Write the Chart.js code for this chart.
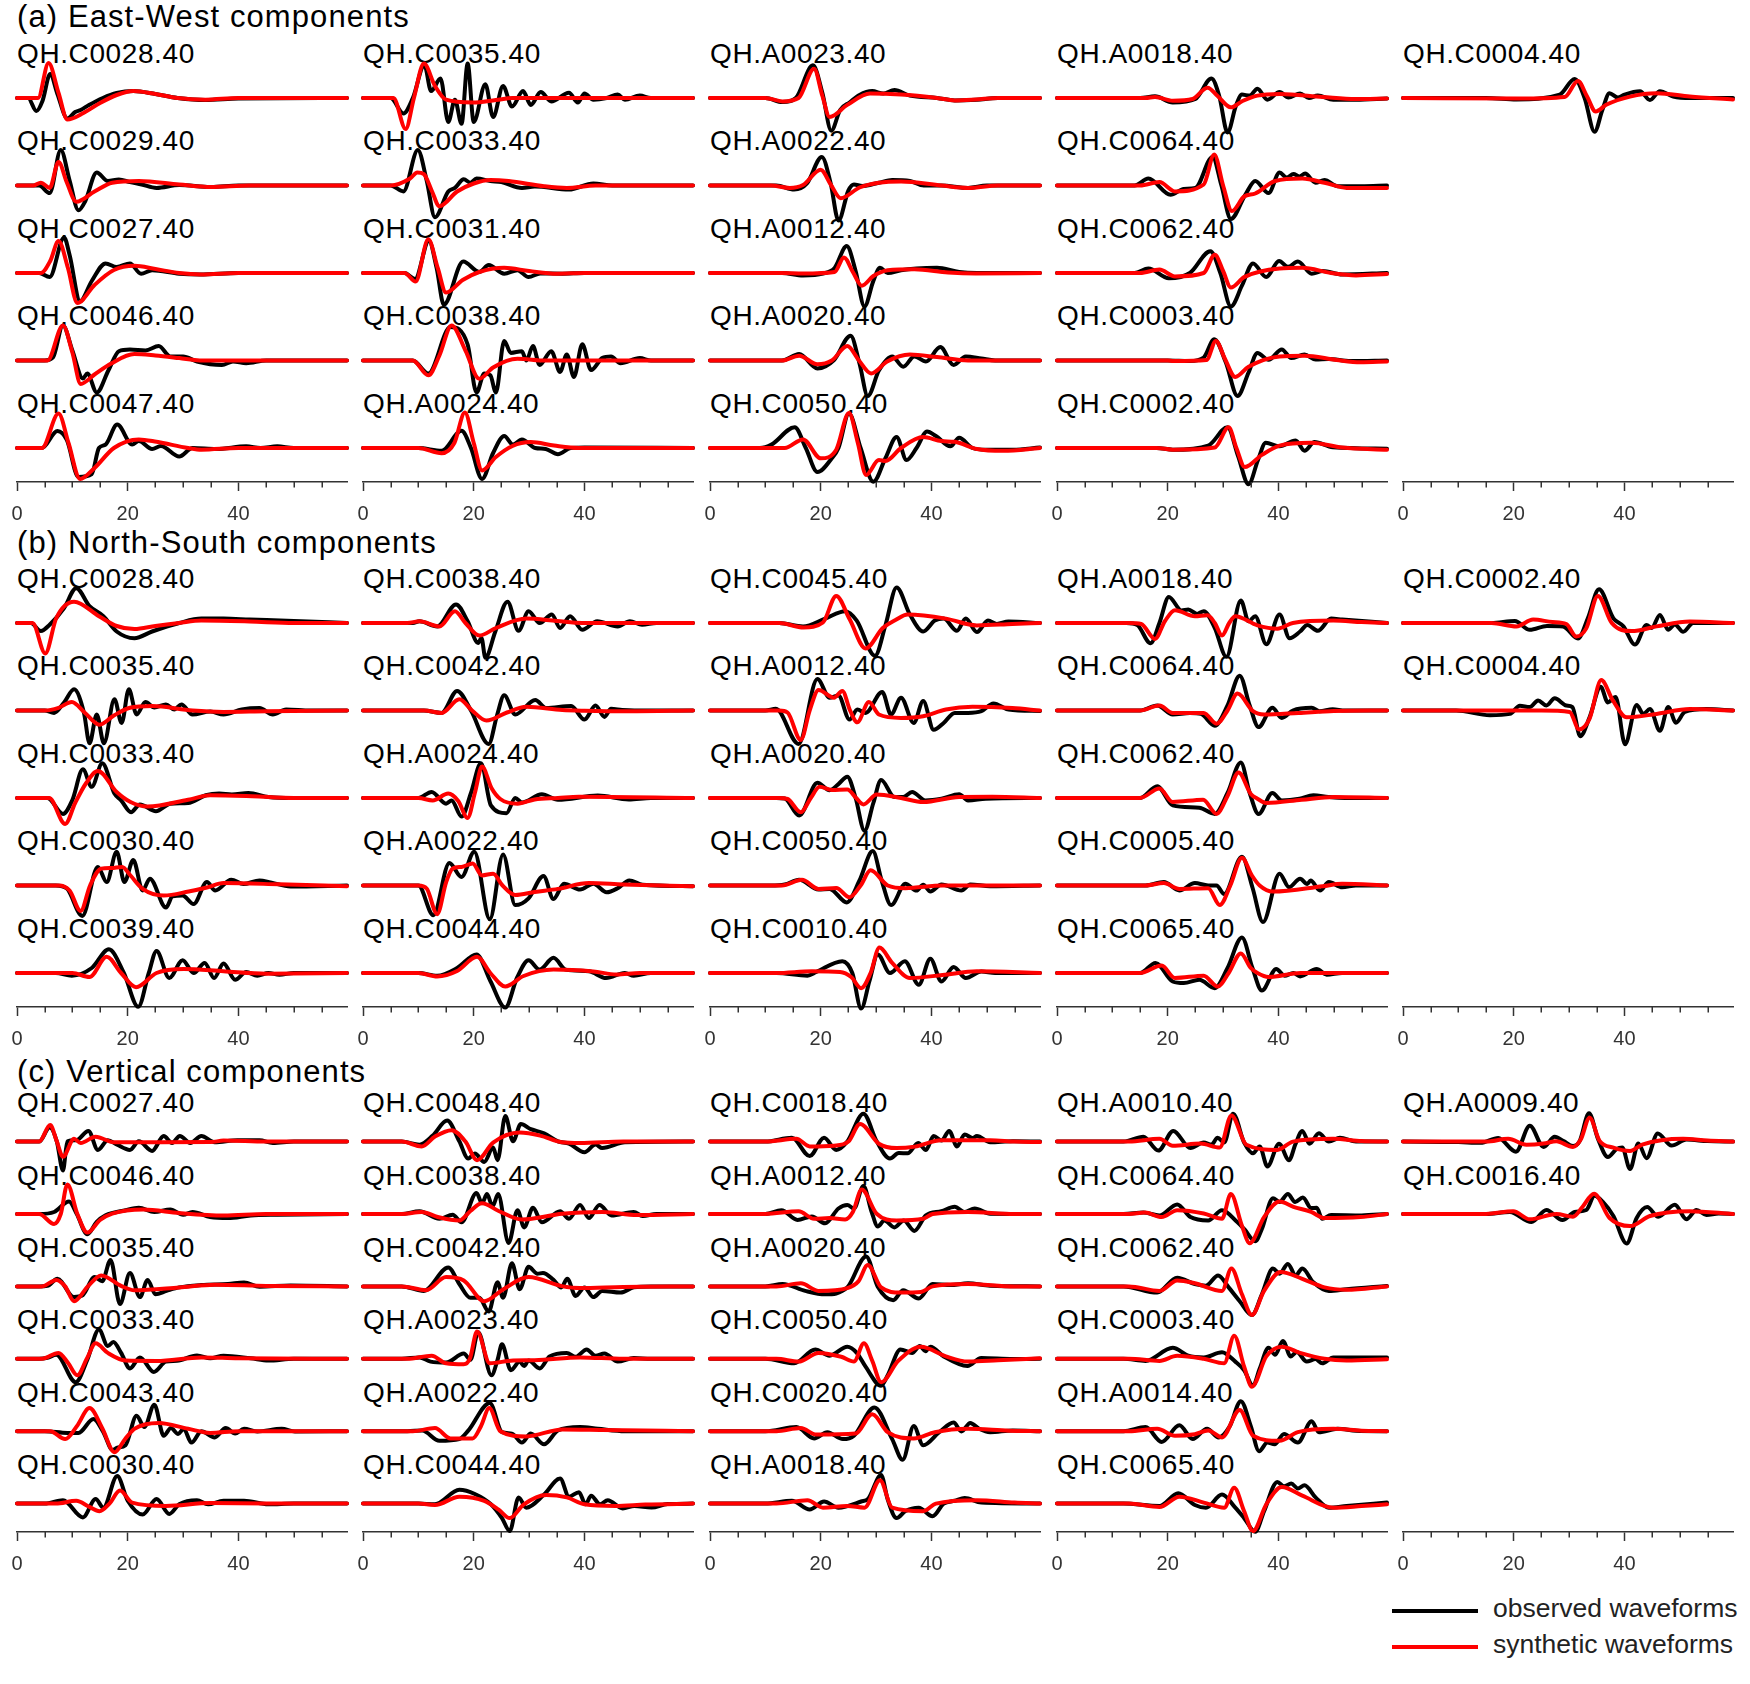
<!DOCTYPE html>
<html><head><meta charset="utf-8">
<script src="https://cdn.jsdelivr.net/npm/chart.js@4.4.1/dist/chart.umd.min.js"></script>
<style>
html,body{margin:0;padding:0;background:#fff;overflow:hidden;}
#fig{position:relative;width:1750px;height:1684px;background:#fff;overflow:hidden;font-family:"Liberation Sans",Arial,Helvetica,sans-serif;}
.t{position:absolute;white-space:nowrap;line-height:1;color:#000;z-index:0;}
canvas{position:absolute;z-index:1;}
.ll{position:absolute;height:4px;z-index:2;}
</style></head><body><div id="fig"></div><script>
// ---------- DATA (time in s, amplitude in relative units; flat lists t,a,t,a,...) ----------
const TITLES = ['(a) East-West components', '(b) North-South components', '(c) Vertical components'];
const X_TICKS = [0, 20, 40];
const X_MINOR_STEP = 5;
const X_MAX = 59.6;
const LEGEND_LABELS = ['observed waveforms', 'synthetic waveforms'];

const EW1_NAMES = ["QH.C0028.40","QH.C0029.40","QH.C0027.40","QH.C0046.40","QH.C0047.40"];
const EW1_OBS = [
 [0,0,2,0,3.5,-13,4.6,-3,6,24,7.3,4,9.1,-20.5,10.5,-14,11.5,-12,13,-7,15.5,0,18,5,21,7,25,4,29,0,34,-2,40,-0.5,59.6,0],
 [0,0,4,0,5.9,-7.6,7.9,35.5,9.5,5,11.1,-24.8,12.3,-16,14.4,13,16.4,4.5,18.4,6,20.4,3.4,22.5,1,25.2,-2.4,29.3,0.5,35,-1.4,40,0,59.6,0],
 [0,0,4,0,5.9,-4,8.5,35.5,9.5,18,11.4,-28,13.5,-8,16,9.6,18,6,20.4,9.6,22.4,-0.7,24.4,2.8,29.3,-0.7,33,-1.4,40,0,59.6,0],
 [0,0,5,0,6.5,3,8.3,35,10,10,11.9,-18,12.7,-13,14.4,-32,16.5,-10,18.4,9.3,20.4,11,23.2,10,25.6,14.5,27.7,4,30,4,32.5,-1,37,-4.5,39,-1,41.4,-2.8,45,0,59.6,0],
 [0,0,4.5,0,7.3,17,9,8,11.1,-29,13.5,-26,14.8,0,16,3.4,18.1,23.4,20.8,3.4,22,7,24.4,-1,26,2,29.3,-8.6,31.7,0,36,-1,41.4,1.7,44,0,47,1.7,50,0,59.6,0]
];
const EW1_SYN = [
 [0,0,3.8,0,5.7,35,7.5,5,9.1,-21.5,12,-15,15,-5,18,3,21,7,25,4,29,0,34,-1.7,40,0,59.6,0],
 [0,0,3,0,4.3,2.8,5.9,-2.4,7.5,23.4,9,3,10.7,-16.2,14,-6,17.2,2.8,22,4.5,29.3,1,35,-1.4,42,0,59.6,0],
 [0,0,4.3,0,6,12,7.5,32,9.2,5,10.9,-30,14,-12,17.5,3,21.2,7.2,25,4,29.3,0,33.3,-1.4,40,0,59.6,0],
 [0,0,5.5,0,8.3,35,10,8,11.5,-23.4,14,-14,17,-3,21.2,6.5,25,5,29.3,2.4,33,0,59.6,0],
 [0,0,4.5,0,7.5,34.4,9.3,5,11.4,-31,14,-20,17.5,0,22,8.6,25.2,6.2,30.9,0,33.3,-1.7,40,0,59.6,0]
];
const EW2_NAMES = ["QH.C0035.40","QH.C0033.40","QH.C0031.40","QH.C0038.40","QH.A0024.40"];
const EW2_OBS = [
 [0,0,5,0,7.3,-15.5,9,0,11.1,32.7,12.3,6.9,14,19.6,15.4,-24,16.6,-1.7,17.8,-25.8,18.9,34.4,20,-24,22.1,13.8,23.5,-19,25.3,12,26.9,-8.6,28.9,6.9,30.3,-6.9,32.1,5.9,34,-3.4,37.2,5.2,38.8,-4.5,40,4.5,41.6,-1.7,44,0,46,3.4,47.3,-1.7,50,2.4,52,0,59.6,0],
 [0,0,5,0,7.3,-5.9,9.9,35.5,11.5,5,13,-31.7,15.4,-5.9,16.6,-2.4,18.2,6.2,19.4,2.8,20.5,6.9,23,4.5,25,3.4,28.7,-2.4,31,-1,37.2,-4,41.6,2,45,0,59.6,0],
 [0,0,7.5,0,9.4,-5.9,11.9,32,13.3,5,14.6,-31.7,18.1,11.4,21,1,22.7,7.9,25.5,-0.7,27.9,2.8,29.9,-4.1,32,-0.5,36,-0.7,40,0,59.6,0],
 [0,0,9,0,11.8,-13,15.8,33.4,18.9,16,20.5,-32,21.9,-13,23,-14.8,24,-32,25.5,19.6,26.7,7.6,28.7,9.3,29.5,0,30.7,14.5,31.9,-4.5,34,9.3,35.6,-11.4,36.8,6,38.1,-16.5,39.6,16.2,41.2,-9.6,43.2,2.4,44.8,4.1,46.5,-2.8,50,2.4,52,0,59.6,0],
 [0,0,10,0,14.2,-2.8,17.8,17.2,19.5,0,21.5,-31,23.5,-5,25.5,12,27.1,3.4,28.7,8.6,31.1,0,33,-1,35.2,-6.2,37.5,0,40,0.5,59.6,0]
];
const EW2_SYN = [
 [0,0,5.5,0,7.7,-31,9.2,0,11,34.4,13,12,15,-1.7,19.8,-4.5,24,-2,27,0,59.6,0],
 [0,0,5,0,8.5,7,9.8,13,11,11.4,12.4,-5,13.8,-20.7,17,-6,20,2,23,5.5,26.3,4.5,32.7,-0.7,36.8,-2.4,42,0,59.6,0],
 [0,0,7.5,0,9.5,-8.6,11.8,33.7,13.5,5,15,-19.6,18,-7,21,1,25.5,5.2,30,2,35,-0.7,40,0,59.6,0],
 [0,0,9,0,11.8,-14.8,13.8,5,16,35,18.5,10,21,-18.3,23.5,-7,27.9,1.7,33,0,59.6,0],
 [0,0,10,0,14.2,-5.2,16.5,5,18.4,35.5,20,5,21.5,-22.4,24,-9,27,2,30.3,5.9,34.5,2.4,39,0,59.6,0]
];
const EW3_NAMES = ["QH.A0023.40","QH.A0022.40","QH.A0012.40","QH.A0020.40","QH.C0050.40"];
const EW3_OBS = [
 [0,0,10,0,13.1,-4.1,15.5,0,18.6,32.7,20.3,5,21.9,-32.7,23.5,-12,25.2,-4.5,27,3,29.3,6.9,31.3,4.5,33.3,7.9,36.1,2.4,41,0,44.2,-2.4,48.2,-1.7,52,0,59.6,0],
 [0,0,12,0,15.2,-4.1,17.5,2,20.2,28.6,21.8,2,23.2,-35,25,-5,26,1,27.5,-0.5,30.5,2.8,32.9,5.5,36.1,4.5,38.6,0,41.8,0,46.6,-2.4,50,0,59.6,0],
 [0,0,13,0,16.8,-2.4,20.4,-0.5,22.5,5,24.7,26.9,26.3,2,27.9,-33.4,29.5,-8,30.7,5.2,32.1,0,34.5,2.8,37.3,4.5,41,5.2,45,1,48.2,0,59.6,0],
 [0,0,13,0,16.1,6.5,19.4,-7.9,22.4,0.5,25.4,24.8,27,-3,28.5,-35.5,30.5,-10,32.9,4.1,34.9,-6.2,36.9,4.1,39,-1,41.6,13.4,44,-4.5,46.2,4.1,49,2,51.5,0,59.6,0],
 [0,0,9,0,11.1,3.4,15.3,20.7,17.3,0,19.4,-24.1,22,-10.3,23.2,0,25.1,34.4,27.2,0,29.5,-33.7,31.7,-10,33.7,11,35.5,-12,37.3,0,39.2,16.5,40.8,12,43.4,1.7,45,10.3,47.4,0,49.8,-1.7,54.7,-1.7,59.6,0.5]
];
const EW3_SYN = [
 [0,0,10,0,13.1,-3.4,16,0,18.8,29.3,20.3,2,21.6,-19,24.8,-6.9,28.9,4.5,34.5,3.4,41,0,44.2,-2.4,48,-1.5,52,0,59.6,0],
 [0,0,11,0,14.4,-2.4,16.8,0.5,20,15.8,21.8,1,23.6,-12.7,27,-2,30.5,2.8,34.5,4.1,41.8,0,46.6,-2.4,52,0,59.6,0],
 [0,0,13,0,16.8,-0.5,22.5,1,24.2,15.5,25.8,1,27.4,-12.7,29.5,-3,32.1,2.8,36.9,3.8,43,0.5,48,-0.5,59.6,0],
 [0,0,13,0,16.1,4.8,19.4,-3.8,22,0,24.8,14.5,26.9,0,29.1,-13,32,-1,36.1,5.9,41,3.4,46.6,0,59.6,0],
 [0,0,13.5,0,16.8,8.6,20,-10.3,22.8,-1.7,25.1,35,26.7,5,28.2,-26.9,30.5,-12,31.7,-13,34.5,0,38.5,11,41.8,6.9,44.2,6.2,48.2,-1,53,-2.8,59.6,0]
];
const EW4_NAMES = ["QH.A0018.40","QH.C0064.40","QH.C0062.40","QH.C0003.40","QH.C0002.40"];
const EW4_OBS = [
 [0,0,15,0,17.7,1.7,20.9,-4.5,25,-1,27.9,19.6,29.3,2,30.8,-34.4,32.3,-8,33.4,3.4,34.8,2.4,36.2,9.3,38,-1.7,40.2,5.9,41.8,0.5,43.9,4.5,45.5,0,47.1,2.4,49.9,-1.7,54,-1.7,59.6,-0.5],
 [0,0,14,0,16.5,6.9,20.5,-9.3,22.9,-3.4,25,-2.4,28.1,28.6,29.7,0,31.4,-33.4,34,-9.3,35.8,4.5,38.2,-7.6,40.2,13,41.5,7.9,42.7,11.4,43.8,9,44.8,12,46.7,2.8,48.3,5.5,50.7,-0.7,55,-0.7,59.6,0],
 [0,0,14,0,16.5,4.5,20.2,-5.2,24,0,27.7,21.7,29.5,0,31.4,-33.4,33.4,-12.7,35.4,9.6,37.8,-4.1,40.1,12,41.7,6.2,43.5,11.4,46,-0.7,48,2,51.5,-1.5,59.6,0],
 [0,0,20,0,24,-0.5,26.5,3,28.4,21.3,30.5,-2,32.6,-35.5,34.6,-12,36.2,7.6,38.2,0.7,40.6,11,42.3,2.4,44.7,5.9,46.7,1,49,1.5,53,-0.5,59.6,0],
 [0,0,18,0,20.9,-1.7,27.3,2.4,30.8,20.7,32.7,-8,34.6,-36.2,36.3,-12,37.7,5.2,40.2,1.7,43.1,7.6,44.7,-2.8,46.5,5.9,49.8,0.7,59.6,-0.7]
];
const EW4_SYN = [
 [0,0,16,0,17.7,1,20.9,-2.8,24.5,-1,27.2,10.3,29,2,31.4,-9.3,33.5,-3,36.2,2.4,40.2,4.1,48,1,53.9,-1,59.6,-0.5],
 [0,0,15,0,18.5,3.4,21.3,-5.9,26.5,1,28.4,31,30,0,31.6,-25.5,33.8,-11,35.8,-8,39.4,4.5,44.3,6.9,48.3,2.8,52.3,-2.4,59.6,-2.4],
 [0,0,15,0,18.5,3.4,21.3,-3.4,26.5,0,28.5,18.3,30,2,31.4,-14.5,33.8,-4.1,40.2,4.5,44.3,5.2,49.5,0,54,-2.4,59.6,-1],
 [0,0,20,0,21,-0.5,27,0.5,28.7,19.6,30.3,2,32.2,-16.5,34.6,-6.2,40.2,4.1,44.7,4.8,50.5,0.5,54.8,-1.7,59.6,-1],
 [0,0,18,0,20.9,-1.7,28.5,0.5,31,20.7,32.4,0,33.9,-19,37,-6.9,40.2,2.4,45.9,5.2,51.5,0.5,59.6,-1.7]
];
const EW5_NAMES = ["QH.C0004.40"];
const EW5_OBS = [
 [0,0,15,0,20.5,-1.4,28.3,3.4,31,19,32.8,0,34.6,-33.8,36,-12,37.3,4.7,38.8,0.5,40,3.4,42.8,6.8,44.6,-2,46.4,6.8,48.8,1.5,52,0,59.6,0]
];
const EW5_SYN = [
 [0,0,21,-0.5,29.2,1,31.6,16.9,33.2,2,34.8,-13.5,36.7,-6.8,41,1.4,45.8,4.7,51.8,1.5,59.6,-1.4]
];

const NS1_NAMES = ["QH.C0028.40","QH.C0035.40","QH.C0033.40","QH.C0030.40","QH.C0039.40"];
const NS1_OBS = [
 [0,0,2.5,0,4.3,-8,5.9,-1.7,8.5,15,10.7,34.8,13.1,16.9,15.6,6.8,18,-8.5,21.2,-15.2,24.4,-8.5,29.3,0,33.3,4.4,37.3,4.4,42,3.5,50,2,59.6,0],
 [0,0,5,0,6.7,-2.4,8.5,8,10.3,21.3,12.1,-2.4,13.1,-32.8,14.4,-4,15.7,-32.8,17.6,11.2,18.9,-12.5,20.2,21.3,21.6,-4,23.2,8.5,24.8,3,26.9,6.1,28.4,1,29.7,6.1,31.7,-4,34.9,-1,37.3,-4,40.6,1,43.8,2.4,46.2,-4,48.6,1,53,0,59.6,0],
 [0,0,5.5,0,8.3,-15.9,10,-2,11.9,28.7,13.5,11.2,15.4,34.8,17.6,4.4,18.8,-2.4,20.6,-14.2,22.2,-6.4,25.1,-13.2,27.7,-5.7,30.9,-5,34.1,2.7,36.5,4.4,38.8,3.5,41.8,5,45.4,1,50,0,59.6,0],
 [0,0,7,0,9,-3,11.8,-30.4,14.6,18.6,16.2,3.4,18,33.8,19.4,3.4,21,25.4,22.7,-5,24,6.8,26.9,-22,28.1,-10.8,29.9,-10,31.9,-18.6,34.3,3.4,35.8,-5,38.7,5.7,40.9,1.5,43.8,5,45.8,3,49.4,-1,59.6,0],
 [0,0,7,0,9.9,-2.7,13.5,5,16.6,23.7,19.3,0,21.9,-33.8,23.8,0,25.2,22,27.5,-5,29.9,12.8,31.9,0,33.9,10.1,35.6,-5,37.3,9.5,39.4,-6.8,41.4,1,43.4,-2.7,45.4,0,47.4,-1.7,50,0,59.6,0]
];
const NS1_SYN = [
 [0,0,2.8,0,5.1,-30.4,7.1,5,10.3,21.3,14.8,6.8,18,-3,21.2,-6.1,25,-3,29.3,0,33.3,2.4,42,1.5,50,0,59.6,0],
 [0,0,5,0,7.5,2.7,9.9,8.5,12.2,-2,14.9,-14.2,17.5,-5,20.4,2.7,24.4,4.4,31.7,0,37.3,-1.4,45,-0.7,59.6,0],
 [0,0,5.8,0,8.7,-26,10.5,-5,12.5,15,14.6,27,18,6,20.5,-4,23.6,-8.5,30.9,-1.7,34.9,2.7,42.5,1.7,50,0,59.6,0],
 [0,0,7.5,0,9.5,-5,11.5,-25.4,13.2,0,15.2,16.9,17,17.5,19,18.6,20.5,10,22.7,-3.4,26.5,-10.1,31,-6,34.3,-2,37.3,2.4,47.3,1.2,59.6,-0.7],
 [0,0,10,0,13.1,-4,16.2,16.2,18.8,0,21.5,-14.2,25.2,0,30.1,4,37.3,1.7,45,-0.7,59.6,0]
];
const NS2_NAMES = ["QH.C0038.40","QH.C0042.40","QH.A0024.40","QH.A0022.40","QH.C0044.40"];
const NS2_OBS = [
 [0,0,9,0,10.2,1.7,13.4,-3.4,16.8,18.6,18.9,1.7,20.8,-20,21.4,-15,22.1,-34.8,23.9,-8.5,26.1,21.3,28.1,-7.8,29.9,11.8,31.9,0,34.1,8.5,35.6,-5,37.4,6.8,39.6,-6.8,42.3,1.7,46,-3.4,48.2,1.7,50.4,-1.7,53,0,59.6,0],
 [0,0,11,0,14.2,-2.4,17,19.6,19.5,0,22.7,-33.5,24.2,-5,25.5,15.2,27.5,-4,31.1,10.5,33.1,2.5,37.6,4.4,40,-9.1,42,5,43.6,-6.4,44.8,1.7,46.8,0.5,49,0,59.6,0],
 [0,0,10,0,12.4,6.1,15,-5.7,16,-2.4,17.8,-18.6,19.5,5,21.3,34.8,23.1,-7.4,25.9,-15.2,27.5,0,28.7,-4.4,32.3,3.7,35.2,-1.7,42.4,2.4,48,-1.4,52,0,59.6,0],
 [0,0,10,0,12.7,-29.7,15.6,22.6,17.8,8.5,20.1,33.8,22.9,-33.8,25.3,31.1,27.5,-19.6,29.9,-12.8,32.6,9.5,34.4,-13.5,36.3,1.7,39.2,-4,41.6,1.7,44,-6.8,46,-2.7,48.1,5,50.5,0.7,59.6,-0.7],
 [0,0,10,0,13.4,-2.7,17,5,20.5,18.6,23,-8,25.7,-34.5,27.8,-5,29.9,12.8,31.9,3.4,34.4,15.2,36.6,3.4,40.8,1.7,43.9,-5,47.3,0,48.9,-2.7,52,0,59.6,0]
];
const NS2_SYN = [
 [0,0,8,0,10.2,1.7,13.8,-3.4,16.6,11.8,18.5,0,21,-12.5,24,-5,29.5,4.4,35,2,39.6,0,59.6,0],
 [0,0,11,0,14.2,-2.4,17.4,11.2,19.7,0,22.3,-10.1,26,-2,29.5,3.7,36,0.5,40,-0.2,48,-0.7,59.6,0],
 [0,0,10,0,12.6,-2.4,15.4,4.4,17.2,-3,18.9,-20,20.2,5,21.5,31.4,23.2,10,24.8,-1,27.9,-5.7,31,-1.4,35.2,0,39,1.2,59.6,0],
 [0,0,10,0,11.5,-3,13.4,-28.7,15,3,16.2,16.9,17.8,18.6,19.8,22,21.5,10.1,23.5,11.8,25.2,0,27.5,-9.5,31,-6.5,35.2,-3.4,40.8,2.4,47,1,59.6,-0.7],
 [0,0,10,0,13.4,-3.4,17,2,20.6,16.2,23,0,25.7,-13.5,29,-3,34.4,3.4,41.6,1.5,45.8,-1.4,50,0,59.6,0]
];
const NS3_NAMES = ["QH.C0045.40","QH.A0012.40","QH.A0020.40","QH.C0050.40","QH.C0010.40"];
const NS3_OBS = [
 [0,0,12.5,0,16.8,-3.4,20.8,4.4,24.4,11.8,26.5,2.4,29.8,-32.8,31.7,-2,33.7,35.5,36.1,8.5,38.5,-8.5,40.6,2.4,42.2,4.4,44.6,-7.8,46.2,4.4,48.2,-9.1,50.2,2.4,51.8,-1,53.9,1.5,59.6,0],
 [0,0,10,0,11.9,1.7,16,-33.5,19.4,31.4,21.6,12.8,23.2,15,25.2,-9.1,26.6,1,28.1,-2.4,31.1,18.6,32.7,-4,34.5,12.8,36.8,-12.5,38.5,9.5,40.4,-19.3,42.2,-12.5,44.2,-2.4,46.6,-2.4,49,-0.7,51.2,7.1,53.9,1,59.6,-0.5],
 [0,0,12,0,13.5,-0.5,16.1,-17.6,19.4,15.2,21.6,7.8,23.2,13.9,24.8,21.3,26.3,0,27.9,-32.8,29.5,-5,30.9,17.9,33.3,1,34.9,1,36.5,6.1,38.9,-2.4,41.8,-0.7,45,3.7,46.6,-2.4,49.8,-0.7,59.6,0],
 [0,0,11,0,13.5,1,16.1,5.7,19.6,-4,21.6,-3.4,24.7,-16.9,27,5,29.4,34.5,31,5,32.7,-19.6,35.3,1.7,37.3,-5,38.5,0.7,39.8,-6.1,41.8,1,45.4,-5,47,1,50.6,-0.7,59.6,0],
 [0,0,12,0,17.6,-2.7,19.2,1,23.9,11.8,25.7,0,27.3,-35.5,28.8,-8,30.3,18.6,32.5,0,35.2,11.8,37.7,-11.8,39.8,14.2,41.8,-8.5,44,6.1,46.2,-5,49,1.5,51.5,0,59.6,0]
];
const NS3_SYN = [
 [0,0,12.5,0,16.9,-4.4,20.4,0.5,22.8,27,25.2,4,28.1,-25.4,31.2,-5,33.5,3,35.7,8.5,42.6,4.4,48.2,-2.4,54.6,-1,59.6,0],
 [0,0,12.5,0,14,-2,16.4,-29.4,18,0,19.6,20.6,22.4,12.8,23.9,19.6,25.3,0,26.6,-11.8,28.7,8.5,30.5,-4,34.5,-7.4,38.5,-5.7,42.6,1,47.4,3.7,54.6,2.4,59.6,0],
 [0,0,12.5,0,14,-1,16.4,-14.2,18.2,0,19.8,11.2,22,8,24.8,8.5,26.4,0,27.7,-6.4,30.1,3.4,34.5,0,38.5,-4,45,1,51,1.2,59.6,0],
 [0,0,13,0,16.6,5.7,19.6,-3.4,22.8,-2.4,25.2,-11.8,27.2,0,29,15.2,32.1,0,35.3,-2.7,42,0,59.6,0],
 [0,0,12,0,18.4,1.7,23.5,1,25.5,-4,27.3,-15.2,29,0,30.6,25.4,32.9,10.1,36.1,-5,42,-2,48.2,1.7,59.6,0]
];
const NS4_NAMES = ["QH.A0018.40","QH.C0064.40","QH.C0062.40","QH.C0005.40","QH.C0065.40"];
const NS4_OBS = [
 [0,0,12.5,0,14.5,-2,16.9,-20.3,18.5,0,20.2,26,22.5,12.5,23.7,13.5,25.3,9.1,26.5,11.8,28.5,-5,30.6,-33.8,33.2,22.6,34.6,1.7,35.8,6.8,37.8,-21.3,40.2,8.5,42,-15.2,43.9,-8.5,45.2,-2,47.1,-7.8,49.5,4.4,51.5,3.5,59.6,0],
 [0,0,15,0,18.1,5,20.9,-4,24,-2.4,26,-3.4,28.5,-15.2,30.8,5,33,34.8,34.8,5,36.4,-16.6,38.9,2.7,40.6,-7.4,42.6,0,46,2.7,47.4,-0.7,49.8,1.2,52,0,59.6,0],
 [0,0,15,0,18.1,11.8,20.9,-7.4,25.7,-9.8,28.5,-15.9,30.8,5,33.2,35.5,34.8,5,36.4,-15.9,38.9,5,40.6,-2.4,43.8,-0.7,46.3,2.7,49,1,52,0,59.6,0],
 [0,0,16,0,19.3,3.4,22.1,-5,24.9,2.4,27.3,0,28.8,0,30.2,-8.5,33.4,28.7,35.3,-2,37.2,-36.5,40.2,11.8,41.9,-1.7,43.9,6.8,45.2,1.5,45.8,5,47.5,-5,49.1,3.4,51.5,-1.7,54,0,59.6,0],
 [0,0,15,0,17.8,10.1,20.9,-8.5,22.9,-10.1,25.7,-6.8,28.5,-15.2,30.8,5,33.4,35.5,35.3,5,37,-17.6,39.6,4,41.1,-2.7,42.7,0,43.9,-3.4,46.9,4,48.7,-1.7,51.5,0,59.6,0]
];
const NS4_SYN = [
 [0,0,13,0,15.2,-1,17.7,-15.9,19.5,2,21.3,12.8,24.9,6.8,27.2,7.8,28.5,0,29.8,-12.5,31.1,0,32.2,6.8,36.2,-2.4,39.8,-5.7,42.6,0,49.9,2.4,55,1,59.6,0],
 [0,0,15,0,18.5,5,20.9,-2.4,26.5,-2.4,28.8,-13.2,30.8,0,32.6,16.9,35.4,-0.7,37.4,-4,43.6,-2.4,50,-0.5,59.6,0],
 [0,0,15,0,18.5,9.5,20.9,-4,26.4,-1.7,28.8,-15.9,30.8,2,32.8,25.4,35,4,36.2,-0.7,37.8,-5,44.2,-1.7,50,1,59.6,0],
 [0,0,16,0,19.3,2.4,22.1,-3.4,27.3,-2.7,29.4,-19.6,31.3,0,33.4,27.7,35.2,10,36.6,0,39,-6.1,48,-0.7,51.5,1.7,59.6,0],
 [0,0,15,0,18.9,7.4,21.3,-5,26.5,-2.7,29,-13.5,31,0,33.2,19.6,35,5,36.2,0,38.2,-4,44,0,59.6,0]
];
const NS5_NAMES = ["QH.C0002.40","QH.C0004.40"];
const NS5_OBS = [
 [0,0,16,0,20.2,2,22.9,-6.8,26,-3,28.9,-3.4,31.6,-15.5,33.4,5,35.4,33.8,38,4.7,39.8,-3.4,41.9,-21.6,44,-2,44.9,-5,46.4,8.1,47.9,-6.8,49.1,-1.4,50.6,-8.8,52.4,0,59.6,0],
 [0,0,9.6,0,15.7,-4.7,19.3,-3.4,21.1,4.7,22.9,3.4,24.4,10.1,25.9,5,27.4,12.2,29.5,5,30.6,3.4,32,-25.7,33.7,-6.8,35.7,23.7,37,8.1,38.4,13.5,40.1,-33.8,42.2,5.4,43.4,-3.4,44.6,1.4,46.4,-20.3,47.9,3.4,49.3,-12.2,50.9,-1.4,54.8,1.4,59.6,0]
];
const NS5_SYN = [
 [0,0,16,0,20.5,-3.4,23.5,3.4,27,1,29.5,-1,31.3,-13.5,33.1,-5.4,35.2,27,37.7,0,41.3,-8.1,45.8,-3.4,51.8,1.4,59.6,0],
 [0,0,25,0,30.1,-1.4,31.8,-18.9,33.7,-8.1,35.8,30.4,37.9,10.1,40.4,-6.8,45.8,-3.4,51.8,1.4,59.6,0]
];

const VZ1_NAMES = ["QH.C0027.40","QH.C0046.40","QH.C0035.40","QH.C0033.40","QH.C0043.40","QH.C0030.40"];
const VZ1_OBS = [
 [0,0,4,0,5.9,14.1,7.2,0,8.3,-28.9,9.1,0.3,10.7,1.4,12.9,10.7,14.6,-8.3,16.4,1.4,18,-2.8,20.4,-8.3,22,0.3,24.4,-9.3,26.5,5.5,28,-1.4,29.4,5.5,31.3,-1.4,33.3,5.5,35.7,-0.7,39.8,1.4,43.8,1.4,46.2,-1.4,50,0,59.6,0],
 [0,0,4,0,6.7,2,9.4,12.4,10.8,0,12.7,-20.3,14.4,-8,16,-1.4,19.6,3.8,22,6.2,24.8,2,27.7,4.5,30,-0.7,31.7,2,34.9,-3,38.1,-4.1,42.2,-1.4,47,-0.7,59.6,0],
 [0,0,4,0,5.5,0.5,7.3,7.6,10.3,-10.7,11.9,-8.6,14,9.3,15.4,5.2,16.9,26.5,18.6,-17.6,20.4,13.4,22.2,-10.7,23.6,6.5,25,-7.9,27,-4.5,29.3,-1,33.3,1.4,38.1,2.4,41,3.8,43.8,-0.3,49.4,1,59.6,0],
 [0,0,4,0,5.5,1,7.1,4.1,10.6,-23.4,12.7,-1,14.8,29.3,16.4,12.7,17.4,16.9,18.8,5.9,20.4,-9.6,22.2,1.4,24.7,-13.1,26.9,-2.8,28.9,-2,32.5,3.4,34.9,0.5,37.3,3.1,42.2,0.5,45.4,-1.7,50,0,59.6,0],
 [0,0,5,0,9.1,-1.7,11.1,-1.7,13.8,12.1,15.5,0,17.3,-18.9,18.1,-16.5,19.6,-14,21.6,15.5,23,4.1,24.8,26.5,26.5,-4.5,27.8,3.1,29.1,-2.8,30.1,2.4,31.5,-11.4,33.3,0,35.7,-6.2,37.7,3.1,39.4,-2.4,41,2.4,43.4,-0.3,47.8,2.4,50.2,-0.3,59.6,0],
 [0,0,5,0,8.3,3.4,11.9,-13.8,14.2,4.5,15.6,-4.1,18.1,27.5,20,2.8,22.7,-11,25.2,4.5,27.5,-10.3,29.3,-0.7,32.5,3.4,34.5,-0.7,37.3,2.8,41,2.8,45.4,-0.7,50,0,59.6,0]
];
const VZ1_SYN = [
 [0,0,4,0,6,16.5,7.2,0,8.3,-15.2,10.3,2.8,11.5,-1.4,14.2,4.8,17.5,-0.7,26,-0.7,35,-0.5,37.3,1,45,0,59.6,0],
 [0,0,4,0,6.7,-10,7.9,0,9.1,29.6,10.9,0,12.7,-18.6,15,-6,17.2,0.3,22.8,4.5,29.3,1,37.3,-1.4,45,0,59.6,0],
 [0,0,4.5,0,7.1,6.5,8.7,0,10.3,-14.8,12.8,0,15.2,11,18.8,0.5,21.2,-3.8,29.3,-1,35.7,1.7,45,0.5,59.6,0],
 [0,0,4.5,0,7.5,5.9,9.2,-4,10.9,-16.5,12.6,0,14.2,15.5,16.4,5.9,19.6,-1.7,25.2,-2.1,33.3,1.4,40,0.5,59.6,0],
 [0,0,6,0,8.7,-7.9,10.8,5,13.1,23.1,15.4,3,17.6,-21,19.5,-8,21.2,2.4,25.6,8.3,30.9,2.4,34.9,-1.7,40,0,59.6,0],
 [0,0,7,0,10.7,2.8,13,-3,14.9,-7.6,16.7,0,18.6,13.1,20.8,1,26.9,-2.4,34.9,0.5,45,0,59.6,0]
];
const VZ2_NAMES = ["QH.C0048.40","QH.C0038.40","QH.C0042.40","QH.A0023.40","QH.A0022.40","QH.C0044.40"];
const VZ2_OBS = [
 [0,0,7,0,10.2,-3.1,12.6,6,15.2,21,17.4,0.3,19,-16.9,20.2,-12,21.9,-20.3,23.5,-6,24.3,-18.6,25.7,25.5,27.1,0.3,28.5,17.6,30.3,12.4,32.7,8.3,35.2,0.3,37.2,-2,40,-10.7,42,-3,43.2,-6.5,47.3,-0.7,59.6,0],
 [0,0,7,0,10.2,2.8,13.8,-4.8,16.2,-0.7,17.8,-8.3,20.5,21,21.5,10.7,22.4,20,23.4,7.6,24.4,20,26.3,-28.9,27.9,3.8,29.1,-13.4,30.7,6.2,32.3,-8.3,35.6,2.8,37.2,-4.8,39.2,9,40.8,-4.1,42.7,9,44.9,-1.4,48.9,2,50.5,-2,53,0,59.6,0],
 [0,0,7,0,11,-4.5,15.4,18.9,17.4,2.4,19.4,-11.4,21,-11.4,22.7,-25.1,24.3,4.1,25.3,-11.4,26.9,23.1,28.3,-2.8,29.9,19.6,31.5,12.7,32.5,13.4,34.4,6.5,35.8,-1,36.9,7.6,38.4,-9.6,40,-1,41.6,-10.7,43.2,-4.5,46.5,-6.2,48.9,-1,52,0,59.6,0],
 [0,0,7,0,10.2,1.4,12.2,-2.8,15,-3.8,18.2,5.2,19.4,-1,20.8,26.5,23.2,-16.5,24.3,-1,25.1,14.5,26.7,-11.4,28.3,-2.8,29.1,-7.2,29.9,-1.7,31.9,-9.6,33.7,2.4,36.8,5.9,38.4,2,40.4,9.3,42,3,43.6,5.2,46,-2.8,48.9,0.7,52,0,59.6,0],
 [0,0,8,0,10.7,0.7,13.8,-9.6,17.4,-7.9,19,0.5,22.9,28.2,25.1,-1,26.9,-2.4,28.7,-11.4,30.3,-2.4,32.7,-13.1,35.2,0.7,39.2,4.1,42.4,2.4,47.3,0,59.6,0],
 [0,0,10,0,13,-0.7,17.4,13.8,20.2,9.6,23.1,-0.7,25.1,-14.5,26.5,-27.5,28.1,6.2,29.5,-4.1,32.7,9,35.6,25.1,37.2,6.9,39,11.4,40.2,-0.7,41.2,7.9,42.8,-0.7,44.2,3.4,46.9,-4.8,49,-2.4,52.1,-4,55,-0.5,59.6,0]
];
const VZ2_SYN = [
 [0,0,7,0,10.6,-4.8,13,5,16,11.4,18.5,0,20.6,-18.6,23.5,-1,28.3,9,32,6,35.9,-0.7,39.2,-1.4,47,0,59.6,0],
 [0,0,7,0,10.6,2,13.5,-3,17.4,-6.5,19.4,3,21.5,10.7,24.5,3,28.7,-5.5,36,0.3,43.2,2,49.5,-1,59.6,0],
 [0,0,7,0,11.4,-3.8,15,9.3,18.2,5.9,21.9,-14.8,25.3,-3,29.9,9.3,35.9,0.3,39.2,-1.7,47,-0.5,59.6,0],
 [0,0,8,0,12.4,3.1,15,-4.5,18.2,-5.5,19.3,0,20.6,27.2,22.9,-4.5,27.1,-1.7,31,-1.5,39.2,1.4,47,0,59.6,0],
 [0,0,9,0,13,3.1,15.8,-7.2,19.8,-7.2,21.3,5,22.8,23.1,24.8,0,29.5,-5.2,36,1.7,43.2,1.2,59.6,0],
 [0,0,10,0,13,-1.4,17.4,6.9,21.9,2.8,24.5,-6,26.5,-14.5,29,-1,33.1,8.6,36.8,6.2,40,-0.7,45.6,-2.4,51,-1,59.6,0]
];
const VZ3_NAMES = ["QH.C0018.40","QH.A0012.40","QH.A0020.40","QH.C0050.40","QH.C0020.40","QH.A0018.40"];
const VZ3_OBS = [
 [0,0,10,0,14.8,3.8,18,-14.5,20.6,3.8,22.8,-8.3,24.8,0,27.7,27.9,30.1,0.3,32.5,-16.9,34.1,-11.4,35.7,-11.7,37.6,-1.4,39,-8.3,40.4,5.5,41.8,1,43.2,10.7,44.6,-4.8,46,7.2,47.4,3.5,48.2,5.5,50.6,-0.7,54.7,0.3,59.6,0],
 [0,0,10,0,12.9,3.8,15.8,-5.9,18.4,-2.4,20.8,-9.3,23.2,5.5,24.8,9,26,5.5,27.7,27.9,29.2,2,30.3,-12.4,31.5,-6.5,33.3,-13.4,35,-6.5,36.9,-16.9,39,-1.4,41.8,2.8,44.2,7.2,45.9,2,47.8,5.5,50.6,0.3,59.6,0],
 [0,0,10,0,13.1,2.4,17.2,-4.5,20.8,-7.9,24.8,-1,28.2,30,30.3,-0.3,33.1,-13.8,34.9,-3.8,37.7,-12.1,40.2,2.4,43.4,1.4,46.6,3.1,50.6,0.7,59.6,0],
 [0,0,10,0,15.2,-4.5,19,9.3,21.6,3.1,24.8,12.1,26.5,6,28.1,-7.9,30.9,-26.9,32.1,-16.5,34.4,9.3,36.5,5.9,37.9,12.7,38.9,7.6,39.8,12.1,42.2,2.4,46.5,-7.2,49,0.7,54.7,-0.3,59.6,0],
 [0,0,10,0,15.6,4.1,18.8,-7.2,21.2,-1,24,-7.9,26,-4.5,29.7,23.8,32.9,-7.9,34.8,-28.6,36.8,5.2,38.5,-14.1,41.4,-1,44,8.6,45.4,-0.3,47,8.3,48.6,2.4,50.6,-1,54.7,0.7,59.6,0],
 [0,0,10,0,14.8,2.8,18,-5.9,20.6,2.1,23.2,-4.1,27.3,2.1,28.6,5,30.9,28.6,32.1,4,33.7,-14.5,35.3,-7.4,37.7,-4.1,40.2,-12.7,42.2,0,44.2,2.8,46,5.5,49,1,59.6,0]
];
const VZ3_SYN = [
 [0,0,10,0,15.6,2.8,18,-4.8,22.4,-4.1,25,0,27.1,17.6,30.5,-2.1,33.7,-6.5,37,-5,41.8,1.4,50.6,1.4,55,0,59.6,-0.5],
 [0,0,10,0,16,2.8,18.8,-4.8,21.6,-4.1,24.4,-5.5,25.8,2,27.4,24.4,30.1,0.3,33.7,-6.5,38.5,-4.8,40.2,0,46.6,2.1,55,0,59.6,0],
 [0,0,12,0,16.4,3.1,19.6,-4.5,24.8,-1.7,26.8,5,28.5,21.3,30.9,-1,34.5,-6.2,38.1,-5.5,40.2,0,46.6,2.4,55,0,59.6,0],
 [0,0,12,0,16,-2.8,19.6,5.9,23.7,2,26,-2.8,27.8,15.5,29.3,-2,30.9,-23.4,34,-2,38.1,12.1,42.6,2.4,46.6,-2.8,52,-1.5,59.6,0.5],
 [0,0,12,0,16.4,3.1,19.2,-3.4,26.3,-2.4,29.3,16.9,32.1,-1,36.8,-7.2,40.6,-1,46.6,2.4,54,0.5,59.6,0],
 [0,0,12,0,17.6,3.4,20.4,-4.1,24.8,-2.4,27.9,-4.1,30.7,23.4,32.9,-4.1,38.5,-7.6,40.8,0,48.2,3.4,55,1,59.6,0]
];
const VZ4_NAMES = ["QH.A0010.40","QH.C0064.40","QH.C0062.40","QH.C0003.40","QH.A0014.40","QH.C0065.40"];
const VZ4_OBS = [
 [0,0,12,0,15.6,4.8,18.3,-9,21,10.7,24.1,-6.5,26.5,-1,27.9,-3,29,3.8,30.2,-1,31.8,27.9,33.8,-1,35.4,-11.7,36.6,-5,38,-24.8,40.1,-2.1,41.9,-18.6,43.1,-2,44.3,10.7,45.6,-2.1,47.3,8.3,49.1,0,51.1,3.8,54,0,59.6,0],
 [0,0,12,0,15.6,1.5,18.5,-1.4,21.7,9.6,24.1,-3.1,27.3,-6.5,29.8,3.8,32.6,-8.3,33.8,-15,35.8,-27.2,37,-15,39,15.8,40.2,12,41.7,20,43,12,44.4,16.5,45.9,6,46.9,6.2,47.9,-4.8,49.5,-1,55,-1.4,59.6,0],
 [0,0,12,0,18.1,-6.2,21.7,8.6,24.9,2.4,26.9,0.7,29.1,11,31,-1,33,-14.8,35.2,-28.6,37,-8,39,17.9,40.2,12.7,41.7,22.4,43.1,11,44.3,17.9,46.3,4.1,49.1,-4.5,52.3,-2.8,59.6,0.3],
 [0,0,12,0,16,-2.1,20.9,11,23.7,3.1,26.5,1.4,29.8,6.5,32.2,-2.8,33.8,-11.4,35.4,-26.9,36.6,-10,38.2,11,39.4,4,40.8,17.9,42.2,2.4,43.3,6.9,45.1,-2.8,46.7,-0.3,47.9,-4.5,49.9,1.4,59.6,1.4],
 [0,0,12,0,16,4.1,18.9,-10.7,22.1,5.9,24.5,-7.9,27.1,2.4,29.2,-6.2,31.2,5,33.2,30,35,5,36.5,-20,38,-11.4,39.3,-13.1,41,-2.8,43.5,-11.4,46,10,47.3,-1,50.7,2.4,54,0.5,59.6,0],
 [0,0,12,0,18.5,-2.4,21.9,10.3,24.9,-1.4,26.9,-4.1,29.8,9,32.2,-4.1,33.8,-14.5,35.8,-28.2,37.4,-7.6,39.8,21.7,41,17.3,42.3,20,43.5,15.2,44.7,18.3,46.7,6.2,49.1,-4.1,52.3,-2.4,59.6,1]
];
const VZ4_SYN = [
 [0,0,13,0,18.5,2.8,20.9,-4.1,25.9,-2,29.4,-5.9,31.5,26.2,34.2,-3.1,39.8,-8.3,42.6,0,49.9,2.8,55,0.5,59.6,0],
 [0,0,13,0,15.9,1.5,18.9,-3.1,21.7,3.8,26.5,0.5,29.8,-4.8,31.4,20,33.4,-11.7,34.8,-29.3,37.4,-3.1,40.2,12.4,42.7,7.2,45.9,2.1,48.3,-4.1,54.8,-3.1,59.6,0],
 [0,0,13,0,18.5,-4.5,21.7,5.9,24.9,3.1,29.8,-4.5,31.5,17.9,33.4,-7.9,35.2,-28.6,37.4,-4.5,40.4,14.5,44.3,7.6,48.3,-1,52.3,-3.4,59.6,0],
 [0,0,13,0,18.5,-2.1,21.7,3.1,26.5,0,30.2,-4.5,32,23.1,33.8,-7.9,35.2,-27.9,37.8,2.4,40.6,12.1,43.9,5.9,48.3,0,52.3,-1.7,59.6,-0.5],
 [0,0,13,0,18.1,2.4,21.3,-4.5,24.9,-3,27.3,0.7,29.8,-6.2,33,21.3,35.4,-4.5,40.2,-9.6,43.5,-1,49.9,2.4,55,0.5,59.6,0],
 [0,0,13,0,18.5,-3.4,22.1,6.9,26.5,1,30.2,-4.1,32,15.8,33.8,-7.6,35.4,-27.5,37.8,-0.7,40.6,16.5,44.3,7.9,49.9,-4.1,55,-2.5,59.6,-0.7]
];
const VZ5_NAMES = ["QH.A0009.40","QH.C0016.40"];
const VZ5_OBS = [
 [0,0,10,-0.5,14,-1.2,17.2,3.6,20.4,-10.1,22.9,15.8,25.4,-5.3,27.4,4.9,29,0.5,30.7,-4.4,31.9,0.5,33.6,28.3,35.2,3,37,-15.4,38.6,-7.3,39.6,-6,41,-27.5,42.5,-2,44,-16.6,46,8.1,48.5,-4,51.2,2,55,0.5,59.6,0],
 [0,0,15,0,19.3,2,23.2,-8.1,25.9,4,28.8,-6.1,31,2,33.1,4,34.6,18.2,36.1,12.1,38,-2,40.4,-29.5,42.2,-4,44.1,6.9,46.1,-2.8,49.1,9.3,51.2,-5.3,53,4,54.8,-1,57,0.5,59.6,0]
];
const VZ5_SYN = [
 [0,0,15,0,19,2.8,22.3,-3.2,25.4,-2,27.7,0.3,30.7,-5.3,32.1,2,33.7,23.9,35.5,0.8,38,-6,41,-9.3,43.2,-3,50.6,2.8,55,1,59.6,0],
 [0,0,15,0,19.9,2.8,22.9,-5.3,27.7,0,30.7,-2.8,32.4,7,34.5,20.2,37.3,-4,41,-12.1,44.6,-2,51.8,2.8,59.6,0]
];

// ---------- LAYOUT ----------
const FONT = '"Liberation Sans", Arial, Helvetica, sans-serif';
const COL_X0 = [17, 363, 710, 1057, 1403];
const AXIS_LEN = 330, PAD = 20, AXIS_H = 50;
const SECTIONS = [
  {title: TITLES[0], titleBase: 27.5, first: 98, step: 87.5, lift: 34.5, axisY: 482, top: 40,
   names: [EW1_NAMES,EW2_NAMES,EW3_NAMES,EW4_NAMES,EW5_NAMES], obs: [EW1_OBS,EW2_OBS,EW3_OBS,EW4_OBS,EW5_OBS], syn: [EW1_SYN,EW2_SYN,EW3_SYN,EW4_SYN,EW5_SYN]},
  {title: TITLES[1], titleBase: 553, first: 623, step: 87.5, lift: 34.5, axisY: 1007, top: 566,
   names: [NS1_NAMES,NS2_NAMES,NS3_NAMES,NS4_NAMES,NS5_NAMES], obs: [NS1_OBS,NS2_OBS,NS3_OBS,NS4_OBS,NS5_OBS], syn: [NS1_SYN,NS2_SYN,NS3_SYN,NS4_SYN,NS5_SYN]},
  {title: TITLES[2], titleBase: 1082, first: 1141.6, step: 72.4, lift: 28.6, axisY: 1532, top: 1092,
   names: [VZ1_NAMES,VZ2_NAMES,VZ3_NAMES,VZ4_NAMES,VZ5_NAMES], obs: [VZ1_OBS,VZ2_OBS,VZ3_OBS,VZ4_OBS,VZ5_OBS], syn: [VZ1_SYN,VZ2_SYN,VZ3_SYN,VZ4_SYN,VZ5_SYN]}
];
const fig = document.getElementById('fig');
function addText(txt, left, baseline, size, opts) {
  const d = document.createElement('div');
  d.className = 't';
  d.textContent = txt;
  d.style.left = left + 'px';
  d.style.top = (baseline - 0.8465 * size) + 'px';
  d.style.fontSize = size + 'px';
  if (opts && opts.ls) d.style.letterSpacing = opts.ls + 'px';
  if (opts && opts.color) d.style.color = opts.color;
  fig.appendChild(d);
  return d;
}
const toPts = (flat, base) => { const o = []; for (let i = 0; i < flat.length; i += 2) o.push({x: flat[i], y: base + flat[i + 1]}); return o; };

const minorTicks = {
  id: 'minorTicks',
  afterDraw(chart) {
    const s = chart.scales.x, ctx = chart.ctx;
    ctx.save();
    ctx.strokeStyle = '#333'; ctx.lineWidth = 1.5;
    for (let v = X_MINOR_STEP; v < X_MAX; v += X_MINOR_STEP) {
      if (X_TICKS.includes(v)) continue;
      const px = Math.round(s.getPixelForValue(v)) + 0.25;
      ctx.beginPath(); ctx.moveTo(px, s.top); ctx.lineTo(px, s.top + 5.5); ctx.stroke();
    }
    ctx.restore();
  }
};

SECTIONS.forEach(sec => {
  addText(sec.title, 17, sec.titleBase, 31, {ls: 1.1});
  const areaH = sec.axisY - sec.top;
  sec.names.forEach((names, c) => {
    const x0 = COL_X0[c];
    const synSets = [], obsSets = [];
    names.forEach((nm, i) => {
      const basePx = sec.first + i * sec.step;
      addText(nm, x0, basePx - sec.lift, 28, {ls: 0.6});
      const base = sec.axisY - basePx;
      synSets.push({label: nm + ' syn', data: toPts(sec.syn[c][i], base), borderColor: '#ff0000', borderWidth: 4, clip: false});
      obsSets.push({label: nm + ' obs', data: toPts(sec.obs[c][i], base), borderColor: '#000000', borderWidth: 4, clip: false});
    });
    const cv = document.createElement('canvas');
    cv.width = AXIS_LEN + 2 * PAD; cv.height = areaH + AXIS_H;
    cv.style.left = (x0 - PAD) + 'px'; cv.style.top = sec.top + 'px';
    cv.style.width = cv.width + 'px'; cv.style.height = cv.height + 'px';
    fig.appendChild(cv);
    new Chart(cv, {
      type: 'line',
      data: {datasets: synSets.concat(obsSets)},
      options: {
        responsive: false, animation: false, devicePixelRatio: 1,
        layout: {padding: {left: PAD, right: PAD, top: 0, bottom: 0}},
        plugins: {legend: {display: false}, tooltip: {enabled: false}, title: {display: false}},
        elements: {point: {radius: 0}, line: {cubicInterpolationMode: 'monotone', borderJoinStyle: 'round', borderCapStyle: 'round'}},
        events: [],
        scales: {
          x: {type: 'linear', min: 0, max: X_MAX,
            afterBuildTicks: s => { s.ticks = X_TICKS.map(v => ({value: v})); },
            afterFit: s => { s.height = AXIS_H; },
            grid: {drawOnChartArea: false, drawTicks: true, tickLength: 9, tickColor: '#333', tickWidth: 1.5},
            border: {display: true, color: '#333', width: 1.5},
            ticks: {autoSkip: false, maxRotation: 0, padding: 11, color: '#333', font: {family: FONT, size: 20}}},
          y: {display: false, min: 0, max: areaH}
        }
      },
      plugins: [minorTicks]
    });
  });
});

// legend
[['#000000', 1611, 1617.5], ['#ff0000', 1646.5, 1653.3]].forEach((l, k) => {
  const ln = document.createElement('div');
  ln.className = 'll'; ln.style.background = l[0];
  ln.style.left = '1392px'; ln.style.width = '86px'; ln.style.top = (l[1] - 2) + 'px';
  fig.appendChild(ln);
  addText(LEGEND_LABELS[k], 1493, l[2], 26.5, {color: '#222'});
});
</script></body></html>
